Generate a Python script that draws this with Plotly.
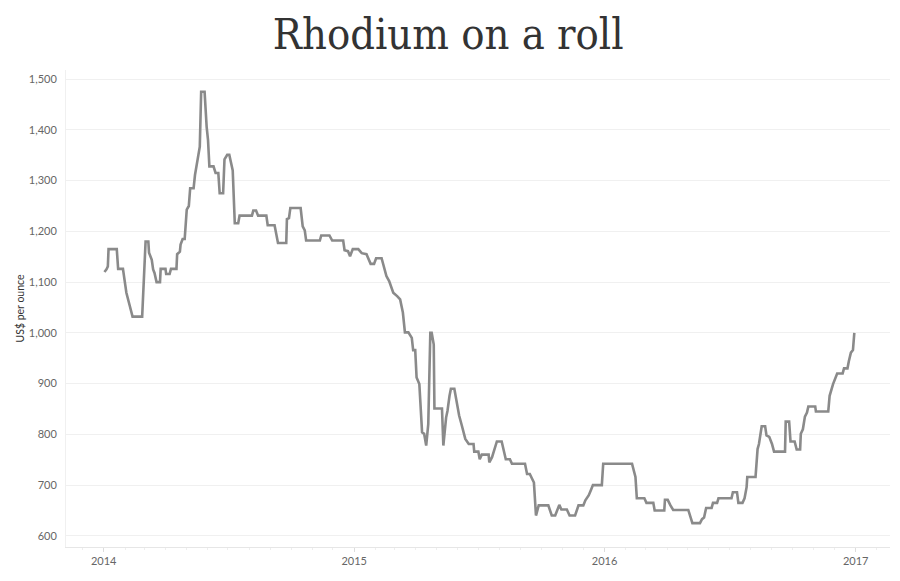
import plotly.graph_objects as go

dates = [
    "2014-01-02", "2014-01-05", "2014-01-07", "2014-01-08", "2014-01-20", "2014-01-22", "2014-01-29",
    "2014-01-31", "2014-02-03", "2014-02-08", "2014-02-12", "2014-02-26", "2014-03-03", "2014-03-07",
    "2014-03-08", "2014-03-12", "2014-03-14", "2014-03-16", "2014-03-19", "2014-03-24", "2014-03-25",
    "2014-04-01", "2014-04-02", "2014-04-07", "2014-04-09", "2014-04-17", "2014-04-18", "2014-04-22",
    "2014-04-23", "2014-04-26", "2014-04-29", "2014-05-02", "2014-05-05", "2014-05-07", "2014-05-12",
    "2014-05-14", "2014-05-16", "2014-05-18", "2014-05-21", "2014-05-23", "2014-05-28", "2014-05-31",
    "2014-06-02", "2014-06-04", "2014-06-10", "2014-06-13", "2014-06-17", "2014-06-19", "2014-06-24",
    "2014-06-26", "2014-06-30", "2014-07-03", "2014-07-06", "2014-07-08", "2014-07-11", "2014-07-16",
    "2014-07-18", "2014-08-05", "2014-08-07", "2014-08-11", "2014-08-14", "2014-08-26", "2014-08-28",
    "2014-09-07", "2014-09-12", "2014-09-24", "2014-09-25", "2014-09-28", "2014-09-30", "2014-10-15",
    "2014-10-18", "2014-10-21", "2014-10-23", "2014-11-12", "2014-11-14", "2014-11-26", "2014-11-30",
    "2014-12-16", "2014-12-18", "2014-12-23", "2014-12-26", "2014-12-30",
    "2015-01-07", "2015-01-12", "2015-01-19", "2015-01-22", "2015-01-25", "2015-01-30", "2015-02-02",
    "2015-02-10", "2015-02-13", "2015-02-17", "2015-02-21", "2015-02-27", "2015-03-05", "2015-03-09",
    "2015-03-13", "2015-03-16", "2015-03-21", "2015-03-26", "2015-03-28", "2015-03-31", "2015-04-02",
    "2015-04-06", "2015-04-10", "2015-04-13", "2015-04-16", "2015-04-19", "2015-04-22", "2015-04-24",
    "2015-04-27", "2015-04-28", "2015-05-09", "2015-05-11", "2015-05-15", "2015-05-17", "2015-05-20",
    "2015-05-22", "2015-05-27", "2015-05-30", "2015-06-03", "2015-06-07", "2015-06-12", "2015-06-17",
    "2015-06-24", "2015-06-25", "2015-07-01", "2015-07-03", "2015-07-06", "2015-07-16", "2015-07-17",
    "2015-07-21", "2015-07-28", "2015-08-04", "2015-08-07", "2015-08-10", "2015-08-16", "2015-08-19",
    "2015-09-07", "2015-09-10", "2015-09-14", "2015-09-17", "2015-09-20", "2015-09-23", "2015-09-27",
    "2015-10-11", "2015-10-16", "2015-10-21", "2015-10-24", "2015-10-27", "2015-10-30", "2015-11-07",
    "2015-11-11", "2015-11-19", "2015-11-24", "2015-12-01", "2015-12-04", "2015-12-09", "2015-12-12",
    "2015-12-15", "2015-12-28", "2015-12-30",
    "2016-02-10", "2016-02-12", "2016-02-15", "2016-02-17", "2016-02-28", "2016-03-02", "2016-03-12",
    "2016-03-14", "2016-03-28", "2016-03-29", "2016-04-02", "2016-04-06", "2016-04-10", "2016-05-02",
    "2016-05-04", "2016-05-08", "2016-05-19", "2016-05-22", "2016-05-25", "2016-05-28", "2016-06-05",
    "2016-06-07", "2016-06-13", "2016-06-15", "2016-07-04", "2016-07-06", "2016-07-12", "2016-07-14",
    "2016-07-20", "2016-07-23", "2016-07-26", "2016-07-27", "2016-08-08", "2016-08-11", "2016-08-13",
    "2016-08-17", "2016-08-22", "2016-08-24", "2016-08-28", "2016-09-01", "2016-09-04", "2016-09-20",
    "2016-09-21", "2016-09-26", "2016-09-28", "2016-10-04", "2016-10-07", "2016-10-12", "2016-10-13",
    "2016-10-16", "2016-10-19", "2016-10-22", "2016-10-24", "2016-11-03", "2016-11-04", "2016-11-22",
    "2016-11-24", "2016-11-29", "2016-12-05", "2016-12-13", "2016-12-15", "2016-12-20", "2016-12-22",
    "2016-12-25", "2016-12-28", "2016-12-30",
]

prices = [
    1120, 1125, 1131, 1165, 1165, 1126, 1126,
    1102, 1079, 1053, 1032, 1032, 1180, 1180,
    1158, 1144, 1125, 1118, 1100, 1100, 1126,
    1126, 1116, 1116, 1126, 1126, 1155, 1160,
    1174, 1185, 1185, 1243, 1250, 1285, 1285,
    1311, 1328, 1340, 1367, 1475, 1475, 1406,
    1380, 1328, 1328, 1315, 1315, 1275, 1275,
    1342, 1351, 1351, 1328, 1320, 1216, 1216,
    1231, 1231, 1241, 1241, 1231, 1231, 1212,
    1212, 1177, 1177, 1224, 1226, 1246, 1246,
    1210, 1202, 1182, 1182, 1192, 1192, 1182,
    1182, 1163, 1161, 1151, 1165,
    1165, 1157, 1155, 1144, 1136, 1136, 1147,
    1147, 1134, 1112, 1102, 1079, 1072, 1066,
    1040, 1001, 1001, 990, 966, 966, 912,
    899, 804, 801, 778, 820, 1000, 1000,
    977, 851, 851, 778, 833, 846, 876,
    890, 890, 866, 837, 817, 791, 781,
    781, 766, 766, 751, 760, 760, 745,
    755, 786, 786, 771, 751, 751, 742,
    742, 722, 722, 712, 705, 640, 660,
    660, 640, 640, 650, 661, 652, 652,
    640, 640, 660, 660, 670, 680, 690,
    700, 700, 742,
    742, 732, 716, 674, 674, 665, 665,
    650, 650, 671, 671, 660, 651, 651,
    642, 625, 625, 633, 636, 655, 655,
    665, 665, 674, 674, 686, 686, 665,
    665, 674, 696, 716, 716, 771, 781,
    816, 816, 798, 795, 781, 766, 766,
    825, 825, 786, 786, 770, 770, 801,
    810, 835, 843, 855, 855, 845, 845,
    876, 899, 920, 920, 930, 930, 944,
    961, 966, 1000,
]

title_text = "Rhodium on a roll"
y_title = "US$ per ounce"
x_tick_vals = ["2014-01-01", "2015-01-01", "2016-01-01", "2017-01-01"]
x_tick_text = ["2014", "2015", "2016", "2017"]
y_tick_vals = [600, 700, 800, 900, 1000, 1100, 1200, 1300, 1400, 1500]

fig = go.Figure()
fig.add_trace(go.Scatter(
    x=dates, y=prices, mode="lines",
    line=dict(color="#8a8a8a", width=2.6),
    hoverinfo="x+y", showlegend=False,
))

fig.update_layout(
    width=900, height=581,
    margin=dict(l=66, r=10, t=70, b=34),
    paper_bgcolor="white", plot_bgcolor="white",
    title=dict(
        text=title_text, x=0.498, xanchor="center", y=0.968, yanchor="top",
        font=dict(family="DejaVu Serif Condensed, DejaVu Serif", size=43, color="#333333"),
    ),
    xaxis=dict(
        type="date", range=["2013-11-07", "2017-02-20"], automargin=False,
        tickvals=x_tick_vals, ticktext=x_tick_text,
        tickfont=dict(family="Lato, Noto Sans, sans-serif", size=11, color="#666666"),
        showgrid=False, showline=True, linecolor="#e6e6e6", linewidth=1,
        ticks="outside", ticklen=4, tickcolor="#dddddd",
        minor=dict(dtick="M1", ticks="outside", ticklen=2, tickcolor="#eeeeee", showgrid=False),
        zeroline=False,
    ),
    yaxis=dict(
        range=[578, 1518], automargin=False,
        tickvals=y_tick_vals, tickformat=",d",
        tickfont=dict(family="Lato, Noto Sans, sans-serif", size=11, color="#666666"),
        showgrid=True, gridcolor="#f0f0f0", gridwidth=1,
        showline=True, linecolor="#f0f0f0", linewidth=1,
        zeroline=False, ticks="", ticklabelstandoff=6,
        title=dict(text=y_title, standoff=2,
                   font=dict(family="Lato, Noto Sans, sans-serif", size=10.5, color="#333333")),
    ),
)

fig.write_html(
    "out.html",
    config={"displayModeBar": False},
    post_script="document.body.style.margin='0';document.body.style.overflow='hidden';",
)
